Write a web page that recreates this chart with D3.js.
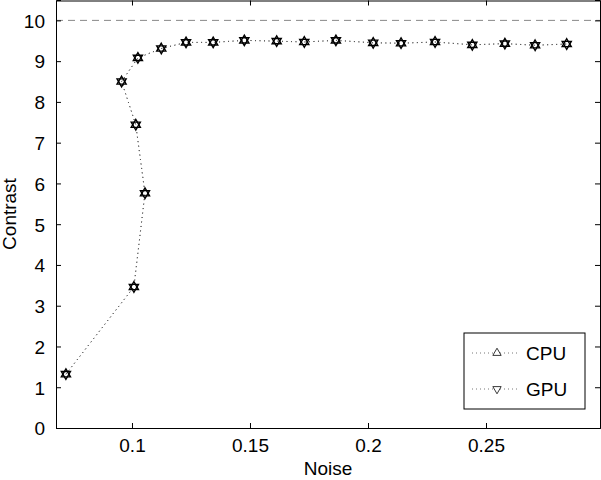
<!DOCTYPE html>
<html lang="en">
<head>
<meta charset="UTF-8">
<title>Contrast vs Noise</title>
<script src="https://d3js.org/d3.v7.min.js"></script>
<style>
  body { margin: 0; background: #fff; }
  text { font-family: "Liberation Sans", Arial, sans-serif; }
</style>
</head>
<body>
<div id="chart"></div>
<script>
// data (CPU and GPU lie on top of each other)
var noise = [0.072, 0.1008, 0.1055, 0.1016, 0.0956, 0.1025, 0.1124, 0.1229, 0.1344, 0.1476,
             0.1613, 0.1730, 0.1864, 0.2022, 0.2140, 0.2284, 0.2442, 0.2580, 0.2708, 0.2842];
var cpuContrast = [1.32, 3.46, 5.76, 7.44, 8.50, 9.08, 9.31, 9.46, 9.46, 9.51,
                   9.49, 9.47, 9.51, 9.45, 9.44, 9.47, 9.40, 9.43, 9.39, 9.42];
var gpuContrast = [1.32, 3.46, 5.76, 7.44, 8.50, 9.08, 9.31, 9.46, 9.46, 9.51,
                   9.49, 9.47, 9.51, 9.45, 9.44, 9.47, 9.40, 9.43, 9.39, 9.42];
var xTicks = [0.1, 0.15, 0.2, 0.25];
var yTicks = [0, 1, 2, 3, 4, 5, 6, 7, 8, 9, 10];
var refLevel = 10;

var W = 601, H = 480;
var margin = {top: 0, right: 1, bottom: 52, left: 56};
var width = W - margin.left - margin.right;
var height = H - margin.top - margin.bottom;
var fontSize = "19px";

var svg = d3.select("#chart").append("svg")
    .attr("width", W).attr("height", H);
var g = svg.append("g")
    .attr("transform", "translate(" + margin.left + "," + margin.top + ")");

var x = d3.scaleLinear().domain([0.0678, 0.2983]).range([0, width]);
var y = d3.scaleLinear().domain([0, 10.5]).range([height, 0]);

// dashed reference line
g.append("line")
    .attr("x1", 0).attr("x2", width)
    .attr("y1", y(refLevel)).attr("y2", y(refLevel))
    .attr("stroke", "#888").attr("stroke-width", 1)
    .attr("stroke-dasharray", "7,5");

// axes (ticks pointing inwards, matlab box style)
var fmtX = function (d) { return String(d); };
var axBottom = g.append("g").attr("transform", "translate(0," + height + ")")
    .call(d3.axisBottom(x).tickValues(xTicks).tickSize(-5).tickPadding(11).tickFormat(fmtX));
var axTop = g.append("g").attr("transform", "translate(0,0.5)")
    .call(d3.axisTop(x).tickValues(xTicks).tickSize(-5).tickFormat(""));
var axLeft = g.append("g")
    .call(d3.axisLeft(y).tickValues(yTicks).tickSize(-5).tickPadding(11));
var axRight = g.append("g").attr("transform", "translate(" + width + ",0)")
    .call(d3.axisRight(y).tickValues(yTicks).tickSize(-5).tickFormat(""));

[axBottom, axTop, axLeft, axRight].forEach(function (a) {
    a.select(".domain").attr("stroke", "#000").attr("stroke-width", 1);
    a.selectAll(".tick line").attr("stroke", "#000");
    a.selectAll("text").attr("fill", "#000").style("font-size", fontSize)
        .style("font-family", "'Liberation Sans', Arial, sans-serif");
});
axBottom.selectAll("text").attr("dy", "0.71em");
axLeft.selectAll("text").attr("dy", "0.36em");

// axis labels
svg.append("text")
    .attr("x", margin.left + width / 2).attr("y", 475)
    .attr("text-anchor", "middle").style("font-size", fontSize)
    .text("Noise");
svg.append("text")
    .attr("transform", "translate(16," + (margin.top + height / 2) + ") rotate(-90)")
    .attr("text-anchor", "middle").style("font-size", fontSize)
    .text("Contrast");

// series
var series = [
    {name: "CPU", values: cpuContrast, sym: d3.symbolTriangle, rot: 0},
    {name: "GPU", values: gpuContrast, sym: d3.symbolTriangle, rot: 180}
];

var line = d3.line()
    .x(function (d) { return x(d[0]); })
    .y(function (d) { return y(d[1]); });

series.forEach(function (s) {
    var pts = noise.map(function (n, i) { return [n, s.values[i]]; });
    g.append("path")
        .datum(pts)
        .attr("d", line)
        .attr("fill", "none")
        .attr("stroke", "#555")
        .attr("stroke-width", 1)
        .attr("stroke-dasharray", "1,3.5");
});

series.forEach(function (s) {
    var pts = noise.map(function (n, i) { return [n, s.values[i]]; });
    g.selectAll(null)
        .data(pts)
        .enter()
        .append("path")
        .attr("d", d3.symbol().type(s.sym).size(36))
        .attr("transform", function (d) {
            return "translate(" + x(d[0]) + "," + y(d[1]) + ") rotate(" + s.rot + ")";
        })
        .attr("fill", "none")
        .attr("stroke", "#000")
        .attr("stroke-width", 1.4);
});

// legend
var lg = svg.append("g").attr("transform", "translate(464,333)");
lg.append("rect")
    .attr("width", 121).attr("height", 76)
    .attr("fill", "#fff").attr("stroke", "#000").attr("stroke-width", 1);
series.forEach(function (s, i) {
    var ly = 20 + i * 36;
    lg.append("line")
        .attr("x1", 8).attr("x2", 56)
        .attr("y1", ly).attr("y2", ly)
        .attr("stroke", "#777").attr("stroke-dasharray", "1,3");
    lg.append("path")
        .attr("d", d3.symbol().type(s.sym).size(30))
        .attr("transform", "translate(33," + ly + ") rotate(" + s.rot + ")")
        .attr("fill", "#fff").attr("stroke", "#222").attr("stroke-width", 0.9);
    lg.append("text")
        .attr("x", 62).attr("y", ly).attr("dy", "0.36em")
        .style("font-size", fontSize)
        .text(s.name);
});
</script>
</body>
</html>
